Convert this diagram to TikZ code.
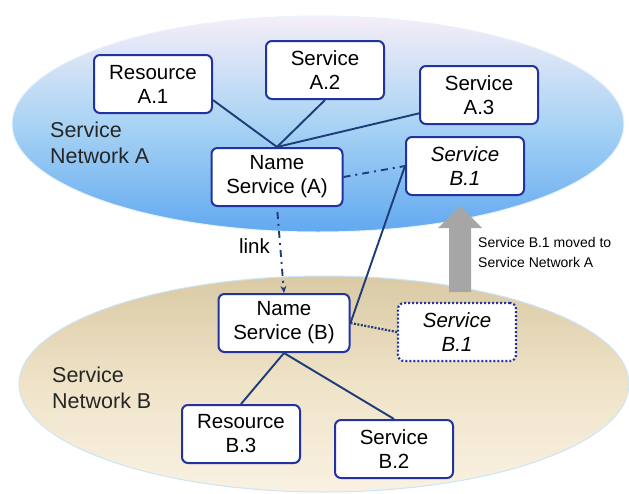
\documentclass[tikz,border=0pt]{standalone}
\usepackage{fontspec}
\setmainfont{Liberation Sans}
\usetikzlibrary{arrows.meta}
\definecolor{boxblue}{HTML}{2233A0}
\definecolor{linenavy}{HTML}{1D3C78}
\definecolor{arrowgray}{HTML}{A6A6A6}
\definecolor{netAtop}{HTML}{F6EEF8}
\definecolor{netAmid}{HTML}{A9D3F4}
\definecolor{netAbot}{HTML}{62A9F0}
\definecolor{netBtop}{HTML}{DACAA5}
\definecolor{netBmid}{HTML}{EFE3C8}
\definecolor{netBbot}{HTML}{F9F1E2}
\begin{document}
\begin{tikzpicture}[x=1pt,y=-1pt,
  box/.style={draw=boxblue, line width=2pt, rounded corners=6pt, fill=white,
    minimum width=118pt, minimum height=58pt, align=center, inner sep=2pt,
    font=\fontsize{20.5}{24}\selectfont},
  wide/.style={box, minimum width=131pt},
  ghost/.style={box, dotted, line width=2.2pt},
  conn/.style={draw=linenavy, line width=1.9pt},
  netlabel/.style={align=left, anchor=north west, inner sep=0pt,
    font=\fontsize{21.5}{26}\selectfont, text=black!85},
  note/.style={align=left, anchor=north west, inner sep=0pt,
    font=\fontsize{14}{20}\selectfont}]
\useasboundingbox (0,0) rectangle (629,493);
% networks
\shade[top color=netAtop, bottom color=netAbot, middle color=netAmid,
  draw=white!85!netAbot, line width=1pt]
  (318,124) ellipse [x radius=306pt, y radius=108pt];
\shade[top color=netBtop, bottom color=netBbot, middle color=netBmid,
  draw=netAmid!60!white, line width=1pt]
  (324,384) ellipse [x radius=305pt, y radius=108pt];
\node[netlabel] (lblA) at (50,122) {Service\\Network A};
\node[netlabel] (lblB) at (52,367) {Service\\Network B};
% move arrow
\fill[arrowgray] (449,292) -- (449,228) -- (438,228) -- (460,206)
  -- (482,228) -- (471,228) -- (471,292) -- cycle;
\node[note] (moved) at (478,237) {Service B.1 moved to\\Service Network A};
% boxes
\node[box]  (ra1) at (153,84)  {Resource\\A.1};
\node[box]  (sa2) at (325,70)  {Service\\A.2};
\node[box]  (sa3) at (479,95)  {Service\\A.3};
\node[wide] (na)  at (277,177) {Name\\Service (A)};
\node[box]  (sb1) at (465,166) {\itshape Service\\\itshape B.1};
\node[wide] (nb)  at (284,323) {Name\\Service (B)};
\node[ghost](gb1) at (457,332) {\itshape Service\\\itshape B.1};
\node[box]  (rb3) at (241,434) {Resource\\B.3};
\node[box]  (sb2) at (394,449) {Service\\B.2};
% connectors
\draw[conn] (ra1.-15) -- (na.north);
\draw[conn] (sa2.south) -- (na.north);
\draw[conn] (sa3.197) -- (na.north);
\draw[conn, dash pattern=on 7pt off 5pt on 2pt off 5pt] (na.east) -- (sb1.west);
\draw[conn] (sb1.west) -- (nb.east);
\draw[conn, line width=2.2pt, dash pattern=on 2pt off 1.5pt] (nb.east) -- (gb1.west);
\draw[conn, dash pattern=on 7pt off 5pt on 2pt off 5pt, -{Stealth[length=7pt,width=6pt]},
  shorten <=5pt] (na.south) -- (nb.north)
  node[pos=0.45, left=6pt, text=black, font=\fontsize{20.5}{24}\selectfont] (lnk) {link};
\draw[conn] (nb.south) -- (rb3.north);
\draw[conn] (nb.south) -- (sb2.north);
\end{tikzpicture}
\end{document}
